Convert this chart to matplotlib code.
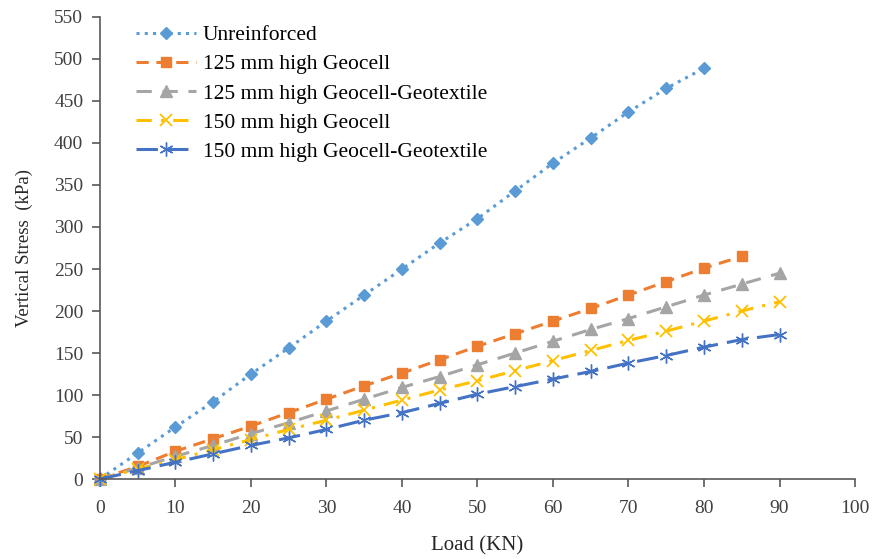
import numpy as np
import matplotlib
matplotlib.use("Agg")
import matplotlib.pyplot as plt

plt.rcParams['font.family'] = ['Liberation Serif', 'DejaVu Serif']

# load (KN) and vertical stress (kPa)
load_a = [0, 5, 10, 15, 20, 25, 30, 35, 40, 45, 50, 55, 60, 65, 70, 75, 80]
unreinforced = [0, 31, 62, 92, 125, 156, 188, 219, 250, 281, 310, 343, 376, 406, 437, 465, 489]

load_b = [0, 5, 10, 15, 20, 25, 30, 35, 40, 45, 50, 55, 60, 65, 70, 75, 80, 85]
geocell_125 = [0, 15, 33, 48, 63, 79, 95, 111, 126, 142, 158, 173, 188, 203, 219, 235, 251, 265]

load_c = [0, 5, 10, 15, 20, 25, 30, 35, 40, 45, 50, 55, 60, 65, 70, 75, 80, 85, 90]
geocell_geotex_125 = [0, 13, 27, 40, 54, 67, 81, 95, 109, 122, 136, 150, 164, 178, 191, 205, 219, 232, 245]
geocell_150 = [0, 12, 23, 35, 47, 59, 70, 82, 94, 106, 117, 129, 141, 153, 165, 176, 188, 200, 211]
geocell_geotex_150 = [0, 10, 20, 30, 40, 49, 59, 70, 79, 90, 101, 110, 119, 128, 138, 147, 157, 166, 172]

labels = ['Unreinforced', '125 mm high Geocell', '125 mm high Geocell-Geotextile',
          '150 mm high Geocell', '150 mm high Geocell-Geotextile']

fig = plt.figure(figsize=(8.8, 5.59), dpi=100)
ax = fig.add_axes([0.1136, 0.1431, 0.858, 0.8265])

ax.plot(load_a, unreinforced, color='#5B9BD5', ls=(0, (1, 1.7)), lw=2.2,
        marker='D', ms=6.5, label=labels[0])
ax.plot(load_b, geocell_125, color='#ED7D31', ls=(0, (4, 2.5)), lw=2.2,
        marker='s', ms=7.5, label=labels[1])
ax.plot(load_c, geocell_geotex_125, color='#A5A5A5', ls=(0, (5, 3.5)), lw=2.2,
        marker='^', ms=8, label=labels[2])
ax.plot(load_c, geocell_150, color='#FFC000', ls=(0, (5, 3, 1, 3)), lw=2.2,
        marker='x', ms=9, mew=1.3, label=labels[3])
ax.plot(load_c, geocell_geotex_150, color='#4472C4', ls=(0, (7, 3)), lw=2.2,
        marker=(6, 2, 0), ms=10, mew=1.0, label=labels[4])

ax.set_xlim(0, 100)
ax.set_ylim(0, 550)
ax.set_xticks(np.arange(0, 101, 10))
ax.set_yticks(np.arange(0, 551, 50))
for side in ['top', 'right']:
    ax.spines[side].set_visible(False)
for side in ['left', 'bottom']:
    ax.spines[side].set_color('#595959')
    ax.spines[side].set_linewidth(1.2)
ax.tick_params(direction='out', length=6, width=1.2, color='#595959',
               labelsize=14, labelcolor='#404040')
ax.tick_params(axis='x', pad=9)
ax.tick_params(axis='y', pad=6)
ax.set_xlabel('Load (KN)', fontsize=15, color='#262626', labelpad=14)
ax.set_ylabel('Vertical Stress  (kPa)', fontsize=13.5, color='#262626', labelpad=15)

ax.legend(loc='upper left', bbox_to_anchor=(0.048, 0.982), frameon=False,
          fontsize=15.5, handlelength=2.8, handletextpad=0.3, labelspacing=0.42,
          borderpad=0, borderaxespad=0)

for l in ax.lines:
    l.set_clip_on(False)

fig.savefig('out.png', dpi=100)
